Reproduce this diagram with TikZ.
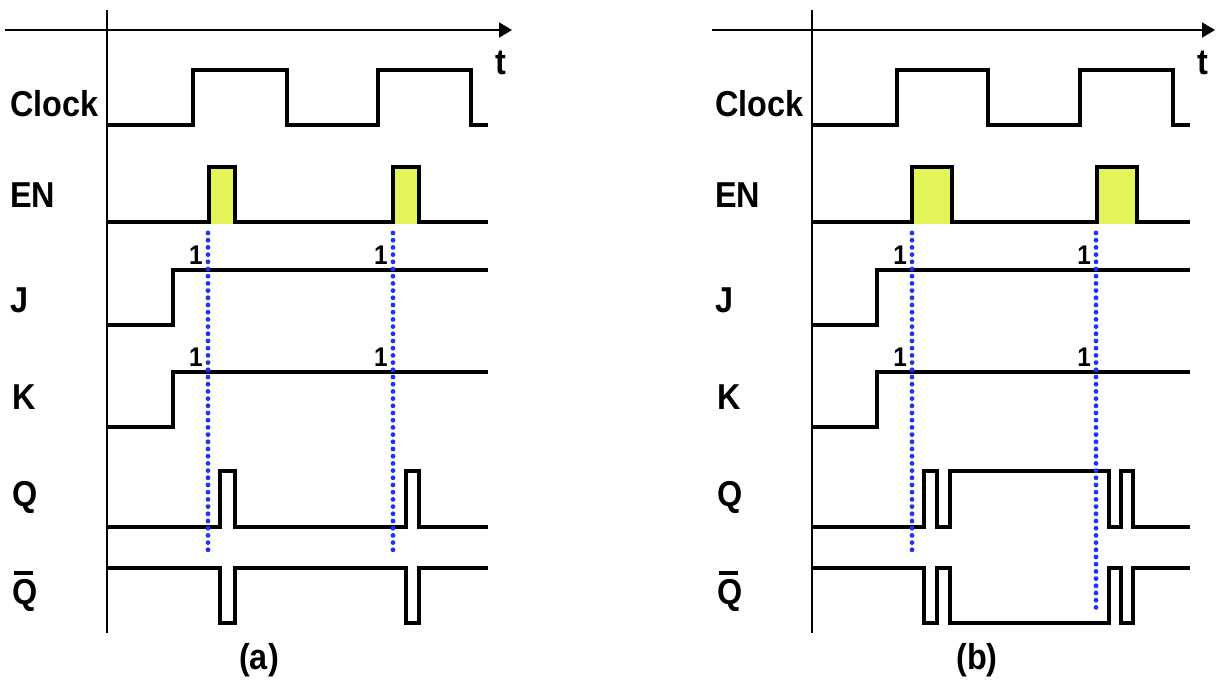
\documentclass[tikz,border=0pt]{standalone}
\usepackage{fontspec}
\newfontfamily\sigfont[FakeStretch=0.9]{Liberation Sans}
\usetikzlibrary{arrows.meta}

\definecolor{enyellow}{RGB}{228,244,88}
\definecolor{dotblue}{RGB}{30,50,255}

\newcommand{\qbar}{\leavevmode\rlap{\hspace{0.04em}\rule[0.83em]{0.54em}{0.11em}}Q}

\tikzset{
  sig/.style={line width=4pt, line join=miter},
  axis/.style={line width=2pt},
  sample/.style={dotblue, line width=4.8pt, line cap=round, dash pattern=on 0pt off 7.2pt},
  lbl/.style={font=\sigfont\bfseries\fontsize{36}{40}\selectfont, inner sep=0pt, anchor=west},
  one/.style={font=\sigfont\bfseries\fontsize{27}{30}\selectfont, inner sep=0pt},
  caption/.style={font=\sigfont\bfseries\fontsize{36}{40}\selectfont, inner sep=0pt}
}

\begin{document}
\begin{tikzpicture}[x=1pt, y=-1pt]
  \useasboundingbox (0,0) rectangle (1225,690);

  % panel (a)
  \begin{scope}
    \draw[axis, -{Triangle[length=13pt,width=15pt]}] (5,30) -- (512,30);
    \draw[axis] (107,10) -- (107,633);
    \node[lbl, anchor=center] (tA) at (501,63) {t};

    \draw[sig] (107,125) -- (193,125) -- (193,70) -- (287,70) -- (287,125)
      -- (378,125) -- (378,70) -- (471,70) -- (471,125) -- (488,125);

    \fill[enyellow] (209,167) rectangle (235,224);
    \fill[enyellow] (393,167) rectangle (419,224);
    \draw[sig] (107,222) -- (209,222) -- (209,167) -- (235,167) -- (235,222)
      -- (393,222) -- (393,167) -- (419,167) -- (419,222) -- (488,222);

    \draw[sig] (107,325) -- (173,325) -- (173,270) -- (488,270);
    \draw[sig] (107,427) -- (173,427) -- (173,372) -- (488,372);

    \draw[sig] (107,527) -- (220,527) -- (220,471) -- (235,471) -- (235,527)
      -- (406,527) -- (406,471) -- (419,471) -- (419,527) -- (488,527);
    \draw[sig] (107,568) -- (220,568) -- (220,623) -- (235,623) -- (235,568)
      -- (406,568) -- (406,623) -- (419,623) -- (419,568) -- (488,568);

    \draw[sample] (208,233) -- (208,555);
    \draw[sample] (393,233) -- (393,555);

    \node[one] (jA1) at (196,255) {1};
    \node[one] (jA2) at (381,255) {1};
    \node[one] (kA1) at (196,357) {1};
    \node[one] (kA2) at (381,357) {1};

    \node[lbl] (clkA) at (10,104) {Clock};
    \node[lbl] (enA) at (10,195) {EN};
    \node[lbl] (jA) at (10,300) {J};
    \node[lbl] (kA) at (12,397) {K};
    \node[lbl] (qA) at (12,497) {Q};
    \node[lbl] (qbA) at (12,591) {\qbar};
    \node[caption] (capA) at (259,660) {(a)};
  \end{scope}

  % panel (b)
  \begin{scope}[xshift=705pt]
    \draw[axis, -{Triangle[length=13pt,width=15pt]}] (7,30) -- (510,30);
    \draw[axis] (107,10) -- (107,633);
    \node[lbl, anchor=center] (tB) at (498,63) {t};

    \draw[sig] (107,125) -- (192,125) -- (192,70) -- (283,70) -- (283,125)
      -- (375,125) -- (375,70) -- (468,70) -- (468,125) -- (485,125);

    \fill[enyellow] (207,167) rectangle (247,224);
    \fill[enyellow] (392,167) rectangle (432,224);
    \draw[sig] (107,222) -- (207,222) -- (207,167) -- (247,167) -- (247,222)
      -- (392,222) -- (392,167) -- (432,167) -- (432,222) -- (485,222);

    \draw[sig] (107,325) -- (172,325) -- (172,270) -- (485,270);
    \draw[sig] (107,427) -- (172,427) -- (172,372) -- (485,372);

    \draw[sig] (107,527) -- (219,527) -- (219,471) -- (232,471) -- (232,527)
      -- (245,527) -- (245,471) -- (404,471) -- (404,527) -- (416,527)
      -- (416,471) -- (428,471) -- (428,527) -- (485,527);
    \draw[sig] (107,568) -- (219,568) -- (219,623) -- (232,623) -- (232,568)
      -- (245,568) -- (245,623) -- (404,623) -- (404,568) -- (416,568)
      -- (416,623) -- (428,623) -- (428,568) -- (485,568);

    \draw[sample] (207,233) -- (207,555);
    \draw[sample] (391,233) -- (391,612);

    \node[one] (jB1) at (195,255) {1};
    \node[one] (jB2) at (379,255) {1};
    \node[one] (kB1) at (195,357) {1};
    \node[one] (kB2) at (379,357) {1};

    \node[lbl] (clkB) at (10,104) {Clock};
    \node[lbl] (enB) at (10,195) {EN};
    \node[lbl] (jB) at (10,300) {J};
    \node[lbl] (kB) at (12,397) {K};
    \node[lbl] (qB) at (12,497) {Q};
    \node[lbl] (qbB) at (12,591) {\qbar};
    \node[caption] (capB) at (272,660) {(b)};
  \end{scope}
\end{tikzpicture}
\end{document}
